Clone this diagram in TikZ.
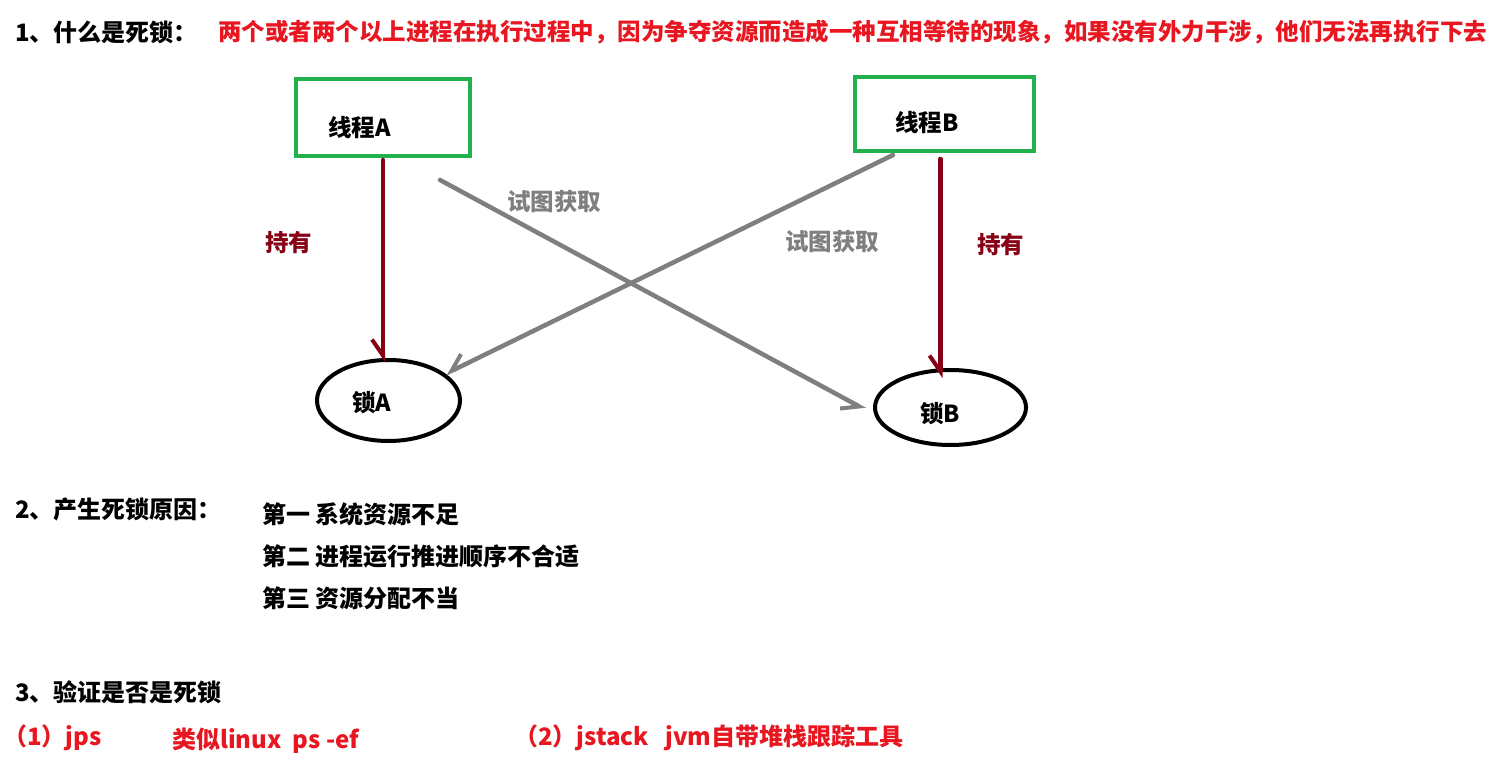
\documentclass[tikz,border=0pt]{standalone}
\usepackage{fontspec}
\newfontfamily\cjk{Noto Sans CJK SC}
\usetikzlibrary{arrows.meta,shapes.geometric}
\definecolor{txtred}{RGB}{232,22,32}
\definecolor{holdred}{RGB}{136,0,21}
\definecolor{boxgreen}{RGB}{34,177,76}
\definecolor{trygray}{RGB}{127,127,127}
\tikzset{
  lbl/.style={inner sep=0pt, anchor=west, font=\cjk\bfseries\fontsize{24}{28}\selectfont},
  dlbl/.style={inner sep=0pt, anchor=west, font=\cjk\bfseries\fontsize{23.5}{28}\selectfont},
  redlbl/.style={lbl, text=txtred},
  thread/.style={draw=boxgreen, line width=4pt, rectangle, inner sep=0pt},
  lockell/.style={draw=black, line width=4pt, ellipse, inner sep=0pt},
  hold/.style={draw=holdred, line width=4.5pt, line cap=round,
    -{Straight Barb[right, length=16pt, width=22pt, line width=4pt]}},
  try/.style={draw=trygray, line width=4.5pt, line cap=round,
    -{Straight Barb[right, length=16pt, width=22pt, line width=4pt]}},
}
\begin{document}
\begin{tikzpicture}[x=1pt,y=-1pt]
\useasboundingbox (0,0) rectangle (1506,767);
\fill[white] (0,0) rectangle (1506,767);

% section 1
\node[lbl] (h1) at (15,32) {1、什么是死锁：};
\node[redlbl, font=\cjk\bfseries\fontsize{23.5}{28}\selectfont] (def) at (218,32) {两个或者两个以上进程在执行过程中，因为争夺资源而造成一种互相等待的现象，如果没有外力干涉，他们无法再执行下去};

% threads and locks
\node[thread, minimum width=174pt, minimum height=77pt] (boxA) at (383,117.5) {};
\node[thread, minimum width=179pt, minimum height=74pt] (boxB) at (944.5,114) {};
\node[dlbl] (tA) at (328,128) {线程A};
\node[dlbl] (tB) at (895,123) {线程B};

\node[lockell, minimum width=143pt, minimum height=81pt] (lockA) at (388.5,400.5) {};
\node[lockell, minimum width=151pt, minimum height=75pt] (lockB) at (950.5,407.5) {};
\node[dlbl] (lA) at (352,403) {锁A};
\node[dlbl] (lB) at (920,414) {锁B};

% hold arrows
\draw[hold] ([yshift=-2]boxA.south) -- ([yshift=-4]boxA.south |- lockA.north);
\draw[hold] ([xshift=-4,yshift=-6]boxB.south) -- ([xshift=-4,yshift=-10]boxB.south |- lockB.north);
\node[dlbl, text=holdred] (hA) at (265,243) {持有};
\node[dlbl, text=holdred] (hB) at (977,245) {持有};

% try arrows
\coordinate (g1s) at (440,180);
\coordinate (g2s) at (893,155);
\draw[try] (g1s) -- ([xshift=-8,yshift=-2]lockB.west);
\draw[try] (g2s) -- (lockA.25);
\node[dlbl, text=trygray] (tryA) at (507,202) {试图获取};
\node[dlbl, text=trygray] (tryB) at (785,242) {试图获取};

% section 2
\node[lbl] (h2) at (15,509) {2、产生死锁原因：};
\node[lbl] (r1) at (262,514) {第一 系统资源不足};
\node[lbl] (r2) at (262,556) {第二 进程运行推进顺序不合适};
\node[lbl] (r3) at (262,598) {第三 资源分配不当};

% section 3
\node[lbl] (h3) at (15,692) {3、验证是否是死锁};
\node[redlbl] (c1) at (3,738) {（1）jps};
\node[redlbl] (c2) at (172,741) {类似linux\ \ ps -ef};
\node[redlbl] (c3) at (514,738) {（2）jstack\ \ \ jvm自带堆栈跟踪工具};
\end{tikzpicture}
\end{document}
